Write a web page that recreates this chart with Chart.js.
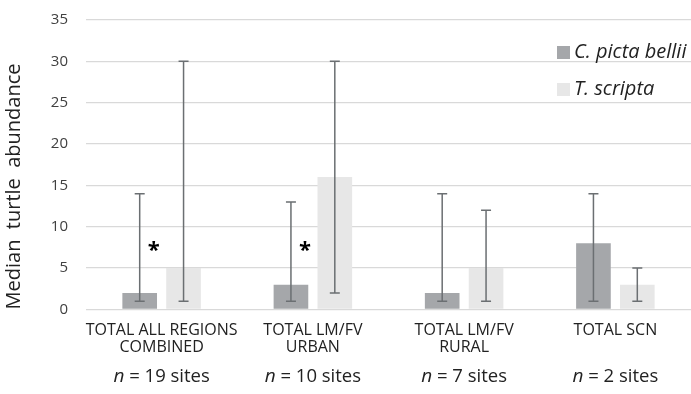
<!DOCTYPE html>
<html>
<head>
<meta charset="utf-8">
<script src="https://cdn.jsdelivr.net/npm/chart.js@4.4.1/dist/chart.umd.min.js"></script>
<style>
  html, body { margin: 0; padding: 0; background: #fff; }
  #wrap { width: 691px; height: 394px; }
</style>
</head>
<body>
<div id="wrap"><canvas id="turtles"></canvas></div>
<script>
const categories = [
    ['TOTAL ALL REGIONS', 'COMBINED'],
    ['TOTAL LM/FV', 'URBAN'],
    ['TOTAL LM/FV', 'RURAL'],
    ['TOTAL SCN']
];
const nSites = [19, 10, 7, 2];

const pictaMedian = [2, 3, 2, 8];
const pictaLow = [1, 1, 1, 1];
const pictaHigh = [14, 13, 14, 14];

const scriptaMedian = [5, 16, 5, 3];
const scriptaLow = [1, 2, 1, 1];
const scriptaHigh = [30, 30, 12, 5];

const sigMarks = ['*', '*', '', ''];

const fontFam = '"Open Sans", Lato, sans-serif';

// range bars, asterisks, n labels and the legend
const extras = {
    id: 'extras',
    afterDatasetsDraw(chart) {
        const ctx = chart.ctx;
        const y = chart.scales.y;
        const ranges = [[pictaLow, pictaHigh], [scriptaLow, scriptaHigh]];
        ctx.save();
        ctx.strokeStyle = '#6b6f72';
        ctx.lineWidth = 1.5;
        ranges.forEach((r, d) => {
            chart.getDatasetMeta(d).data.forEach((bar, i) => {
                const lo = y.getPixelForValue(r[0][i]);
                const hi = y.getPixelForValue(r[1][i]);
                ctx.beginPath();
                ctx.moveTo(bar.x, lo); ctx.lineTo(bar.x, hi);
                ctx.moveTo(bar.x - 5, lo); ctx.lineTo(bar.x + 5, lo);
                ctx.moveTo(bar.x - 5, hi); ctx.lineTo(bar.x + 5, hi);
                ctx.stroke();
            });
        });

        ctx.fillStyle = '#000';
        ctx.font = 'bold 22px ' + fontFam;
        ctx.textAlign = 'center';
        ctx.textBaseline = 'middle';
        chart.getDatasetMeta(0).data.forEach((bar, i) => {
            if (sigMarks[i]) ctx.fillText(sigMarks[i], bar.x + 14, y.getPixelForValue(7.1));
        });

        const x = chart.scales.x;
        ctx.fillStyle = '#222';
        ctx.textBaseline = 'middle';
        nSites.forEach((n, i) => {
            const cx = x.getPixelForValue(i);
            const rest = ' = ' + n + ' sites';
            ctx.font = 'italic 19px ' + fontFam;
            const w1 = ctx.measureText('n').width;
            ctx.font = '18.5px ' + fontFam;
            const w2 = ctx.measureText(rest).width;
            const start = cx - (w1 + w2) / 2;
            ctx.textAlign = 'left';
            ctx.font = 'italic 19px ' + fontFam;
            ctx.fillText('n', start, 377);
            ctx.font = '18.5px ' + fontFam;
            ctx.fillText(rest, start + w1, 377);
        });

        const legend = [
            { label: 'C. picta bellii', color: '#a5a7aa', y: 52 },
            { label: 'T. scripta', color: '#e7e7e7', y: 89 }
        ];
        ctx.font = 'italic 20px ' + fontFam;
        ctx.textAlign = 'left';
        legend.forEach(item => {
            ctx.fillStyle = item.color;
            ctx.fillRect(557, item.y - 6, 13, 13);
            ctx.fillStyle = '#222';
            ctx.fillText(item.label, 574, item.y);
        });
        ctx.restore();
    }
};

new Chart(document.getElementById('turtles'), {
    type: 'bar',
    data: {
        labels: categories,
        datasets: [
            {
                label: 'C. picta bellii',
                data: pictaMedian,
                backgroundColor: '#a5a7aa'
            },
            {
                label: 'T. scripta',
                data: scriptaMedian,
                backgroundColor: '#e7e7e7'
            }
        ]
    },
    options: {
        responsive: true,
        maintainAspectRatio: false,
        animation: false,
        categoryPercentage: 0.58,
        barPercentage: 0.79,
        layout: { padding: { top: 20, right: 0, bottom: 34, left: 0 } },
        plugins: {
            legend: { display: false },
            tooltip: { enabled: false }
        },
        scales: {
            x: {
                grid: { display: false },
                border: { display: false },
                ticks: {
                    color: '#222',
                    font: { family: fontFam, size: 16, lineHeight: 1.08 },
                    padding: 4,
                    maxRotation: 0,
                    autoSkip: false
                }
            },
            y: {
                min: 0,
                max: 35,
                afterFit(scale) { scale.width = 86; },
                ticks: {
                    stepSize: 5,
                    color: '#404040',
                    padding: 0,
                    font: { family: fontFam, size: 15 }
                },
                grid: {
                    color: '#d9d9d9',
                    lineWidth: 1.2,
                    drawTicks: true,
                    tickLength: 18,
                    tickColor: 'rgba(0,0,0,0)'
                },
                border: { display: false },
                title: {
                    display: true,
                    text: 'Median  turtle  abundance',
                    align: 'start',
                    color: '#222',
                    font: { family: fontFam, size: 20 },
                    padding: { top: 2, bottom: 4 }
                }
            }
        }
    },
    plugins: [extras]
});
</script>
</body>
</html>
